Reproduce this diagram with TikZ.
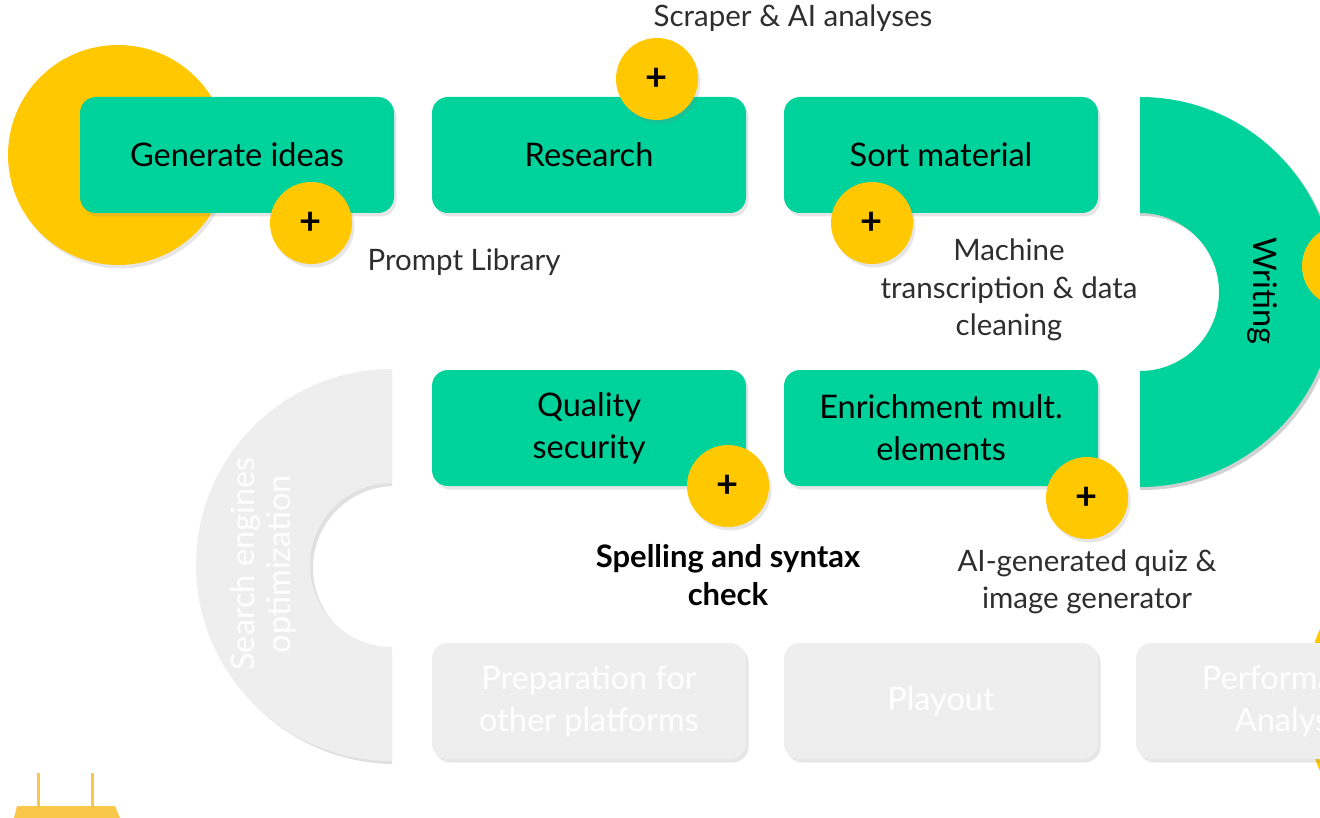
\documentclass[tikz,border=0pt]{standalone}
\usepackage{fontspec}
\setmainfont{Lato}
\usetikzlibrary{shadows}
\definecolor{grn}{HTML}{00D29C}
\definecolor{ylw}{HTML}{FFC800}
\definecolor{lgray}{HTML}{EEEEEE}
\definecolor{lbl}{HTML}{2E2E2E}
\definecolor{pale}{HTML}{F9C84A}
\begin{document}
\begin{tikzpicture}[x=1pt,y=-1pt,
  shade/.style={drop shadow={opacity=0.2, shadow xshift=2.5pt, shadow yshift=-3.5pt}},
  stepbox/.style={rounded corners=16pt, minimum width=314pt, minimum height=116pt, align=center, font=\fontsize{32.5}{42}\selectfont, inner sep=0pt, shade},
  greenbox/.style={stepbox, fill=grn, text=black},
  graybox/.style={stepbox, fill=lgray, text=white},
  plus/.style={circle, fill=ylw, minimum size=82pt, inner sep=0pt, font=\fontsize{38}{38}\selectfont\bfseries, shade},
  lab/.style={text=lbl, align=center, font=\fontsize{29.5}{37.5}\selectfont}
]
\useasboundingbox (0,0) rectangle (1320,818);

% big yellow circles
\node[circle, fill=ylw, minimum size=220pt, inner sep=0pt, shade] (bigc) at (118,155) {};
\node[circle, fill=ylw, minimum size=350pt, inner sep=0pt] (bigc2) at (1480,700) {};

% Writing ring
\begin{scope}
  \clip (1140,0) rectangle (1320,818);
  \fill[black, opacity=0.18, even odd rule] (1143,295) circle (195) (1143,295) circle (79);
  \fill[grn, even odd rule] (1140,292) circle (195) (1140,292) circle (79);
\end{scope}
\node[rotate=-90, font=\fontsize{32.5}{42}\selectfont] (wri) at (1262,291) {Writing};

% Search engines ring
\begin{scope}
  \clip (0,0) rectangle (392,818);
  \fill[black, opacity=0.12, even odd rule] (395,568) circle (196) (395,568) circle (82);
  \fill[lgray, even odd rule] (392,565) circle (196) (392,565) circle (82);
\end{scope}
\node[rotate=90, align=center, text=white, font=\fontsize{32.5}{36}\selectfont] (seo) at (263,564) {Search engines\\optimization};

% boxes
\node[greenbox] (gen) at (237,155) {Generate ideas};
\node[greenbox] (res) at (589,155) {Research};
\node[greenbox] (sor) at (941,155) {Sort material};
\node[greenbox] (qua) at (589,428) {Quality\\security};
\node[greenbox] (enr) at (941,428) {Enrichment mult.\\elements};
\node[graybox] (pre) at (589,701) {Preparation for\\other platforms};
\node[graybox] (pla) at (941,701) {Playout};
\node[graybox] (per) at (1293,701) {Performance\\Analysis};

% plus circles
\node[plus] (p1) at (311,223) {+};
\node[plus] (p2) at (657,79) {+};
\node[plus] (p3) at (872,223) {+};
\node[plus] (p4) at (728,486) {+};
\node[plus] (p5) at (1087,498) {+};
\node[plus] (p6) at (1343,266) {+};

% labels
\node[lab] (scr) at (793,18) {Scraper \& AI analyses};
\node[lab] (prl) at (464,262) {Prompt Library};
\node[lab] (mtr) at (1009,290) {Machine\\transcription \& data\\cleaning};
\node[lab, text=black, font=\fontsize{31}{37.5}\selectfont\bfseries] (spl) at (728,575) {Spelling and syntax\\check};
\node[lab] (aig) at (1087,582) {AI-generated quiz \&\\image generator};

% bottom-left object
\fill[pale] (17,806) -- (115,806) -- (120,818) -- (14,818) -- cycle;
\draw[pale, line width=3pt] (38,773) -- (38,806) (92,773) -- (92,806);
\end{tikzpicture}
\end{document}
